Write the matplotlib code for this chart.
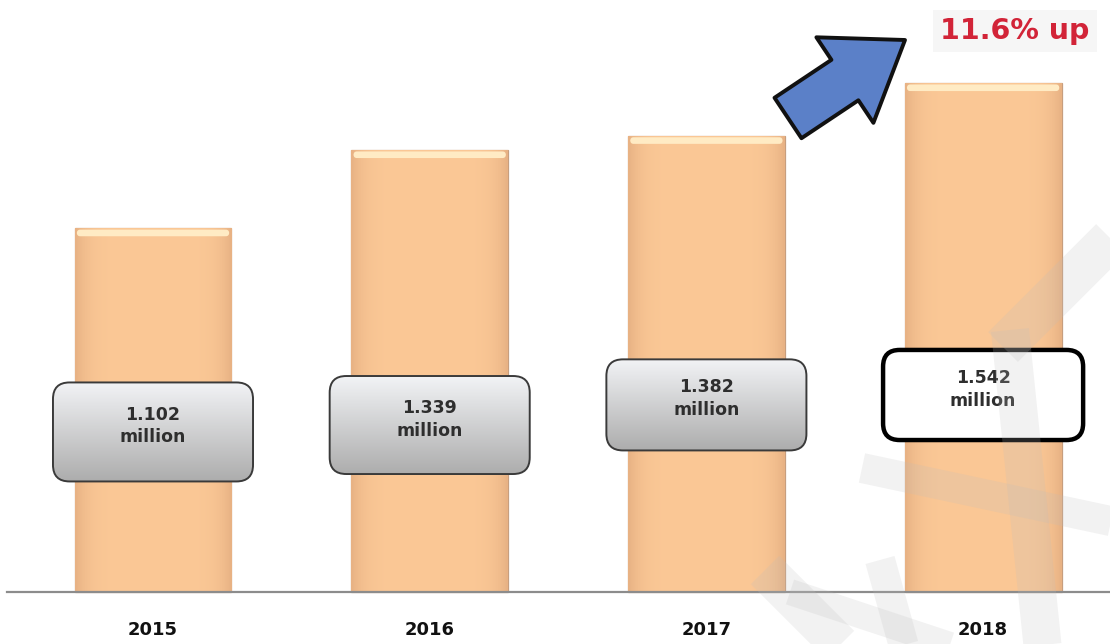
import matplotlib
matplotlib.use("Agg")
import matplotlib.pyplot as plt
from matplotlib.patches import FancyBboxPatch
import numpy as np

years = ["2015", "2016", "2017", "2018"]
visitors = [1.102, 1.339, 1.382, 1.542]          # millions
box_labels = ["1.102\nmillion", "1.339\nmillion", "1.382\nmillion", "1.542\nmillion"]
box_y = [0.485, 0.506, 0.567, 0.597]             # label box centres, millions
growth_text = "11.6% up"

W, H = 1110, 644
fig = plt.figure(figsize=(W / 100, H / 100), dpi=100)
ax = fig.add_axes([0, 0, 1, 1])
ax.axis("off")

# 330 px per million, baseline 52 px above the bottom edge
px_y = 330.0
px_x = 276.7
xlim = (-153 / px_x, (W - 153) / px_x)
ylim = (-52 / px_y, (H - 52) / px_y)

bar_w = 0.567
x = np.arange(len(years))

# bar body with soft darker sides
side = np.abs(np.linspace(-1, 1, 64)) ** 6
body = np.array([0.984, 0.784, 0.588])
edge = np.array([0.91, 0.70, 0.52])
grad = body[None, :] * (1 - side[:, None]) + edge[None, :] * side[:, None]
grad = grad[None, :, :]

for xi, v in zip(x, visitors):
    bars = ax.bar(xi, v, width=bar_w, color="#FBC895", edgecolor="#C79E7E",
                  linewidth=0.9, zorder=2)
    rect = bars[0]
    im = ax.imshow(grad, extent=(xi - bar_w / 2, xi + bar_w / 2, 0, v),
                   aspect="auto", zorder=2.1)
    im.set_clip_path(rect)
    # light bevel along the top
    ax.add_patch(FancyBboxPatch((xi - bar_w / 2 + 0.008, v - 0.024), bar_w - 0.016, 0.02,
                                boxstyle="round,pad=0,rounding_size=0.012",
                                facecolor="#FFEBC4", edgecolor="none", zorder=2.2))

# baseline
ax.plot([7 / px_x + xlim[0], xlim[1]], [0, 0], color="#8C8C8C", lw=1.6, zorder=3)

# value boxes
box_w = 0.723
box_h = [0.300, 0.297, 0.276, 0.273]
vgrad = np.linspace(0, 1, 64)[:, None]
top_c = np.array([0.95, 0.955, 0.965])
bot_c = np.array([0.68, 0.68, 0.68])
box_grad = (top_c[None, :] * (1 - vgrad) + bot_c[None, :] * vgrad)[:, None, :]

for i, (xi, yc, bh, lab) in enumerate(zip(x, box_y, box_h, box_labels)):
    last = i == len(years) - 1
    patch = FancyBboxPatch((xi - box_w / 2, yc - bh / 2), box_w, bh,
                           boxstyle="round,pad=0,rounding_size=0.06",
                           mutation_aspect=px_x / px_y,
                           facecolor="white" if last else "none",
                           edgecolor="black" if last else "#3A3A3A",
                           linewidth=3.2 if last else 1.4, zorder=5)
    ax.add_patch(patch)
    if not last:
        # row 0 (light) at the top of the box
        im = ax.imshow(box_grad, extent=(xi - box_w / 2, xi + box_w / 2,
                                         yc - bh / 2, yc + bh / 2),
                       origin="upper", aspect="auto", zorder=4.9)
        im.set_clip_path(patch)
    ax.text(xi, yc + 0.018, lab, ha="center", va="center", fontsize=12.5,
            fontweight="bold", color="#2E2E2E", linespacing=1.35, zorder=6)

# year labels
for xi, yr in zip(x, years):
    ax.text(xi, -0.115, yr, ha="center", va="center", fontsize=13,
            fontweight="bold", color="#111111", zorder=6)

# faint watermark strokes (figure pixels, y measured from the top)
strokes = [
    ([(1115, 235), (1003, 347)], 42),
    ([(1010, 330), (1043, 650)], 38),
    ([(862, 468), (1115, 522)], 30),
    ([(765, 570), (845, 650)], 40),
    ([(790, 592), (965, 650)], 26),
    ([(880, 560), (905, 650)], 30),
]
for pts, w in strokes:
    px, py = zip(*pts)
    py = [H - p for p in py]
    fig.lines.append(plt.Line2D(px, py, transform=None, color="#BEBEBE",
                                lw=w * 0.72, alpha=0.2, solid_capstyle="butt", zorder=1))

# growth arrow and note
ax.annotate("", xy=(905, 604), xytext=(788, 526),
            xycoords="figure pixels", textcoords="figure pixels",
            arrowprops=dict(arrowstyle="simple,head_length=52,head_width=74,tail_width=35",
                            mutation_scale=1, shrinkA=0, shrinkB=0,
                            facecolor="#5B80C8", edgecolor="#111111", lw=2.8),
            zorder=7)
fig.text(1015 / W, 1 - 31 / H, growth_text, ha="center", va="center",
         fontsize=20.5, fontweight="bold", color="#D22438",
         bbox=dict(boxstyle="square,pad=0.25", facecolor="#F6F6F6", edgecolor="none"))

ax.set_xlim(*xlim)
ax.set_ylim(*ylim)

fig.savefig("out.png", dpi=100, facecolor="white")
